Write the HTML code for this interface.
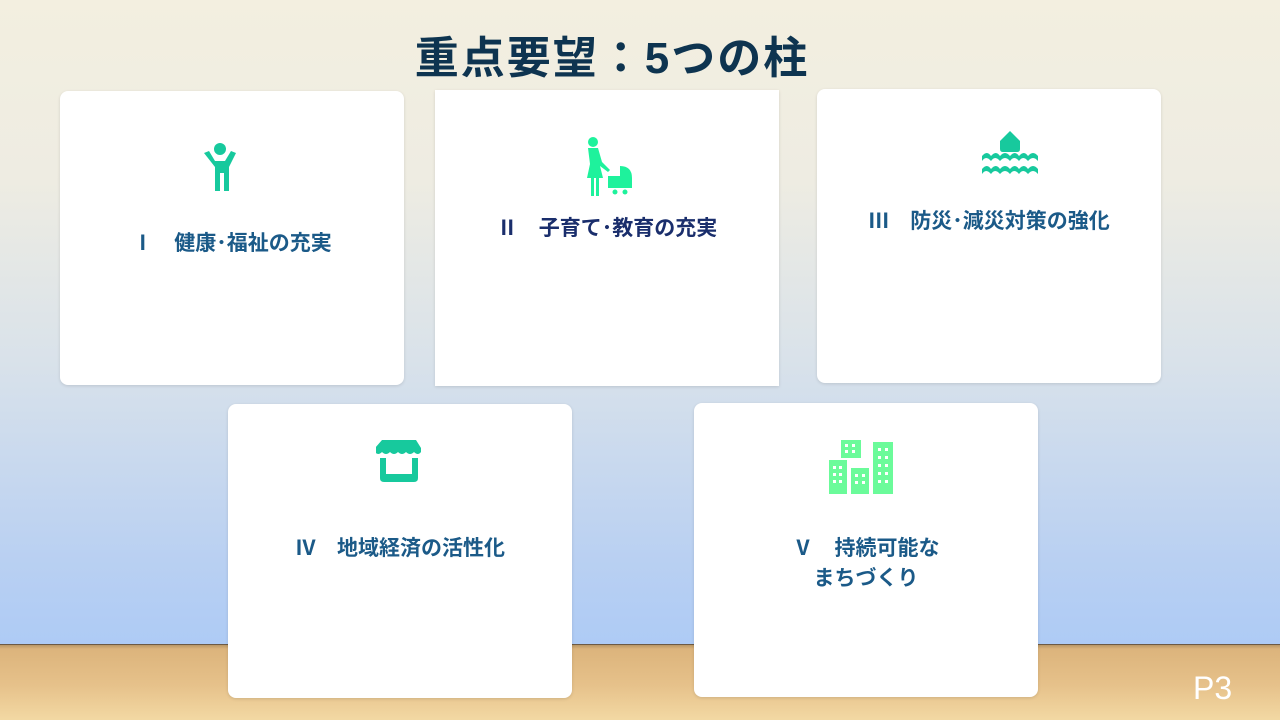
<!DOCTYPE html>
<html><head><meta charset="utf-8"><style>
*{margin:0;padding:0;box-sizing:border-box}
body{width:1280px;height:720px;overflow:hidden;position:relative;font-family:"Liberation Sans","Noto Sans CJK JP",sans-serif;
background:linear-gradient(180deg,#f3efe0 0px,#eeece2 180px,#d9e2ea 360px,#b9d0f2 560px,#aecbf5 644px)}
.floor{position:absolute;left:0;top:644px;width:1280px;height:76px;background:linear-gradient(180deg,#b89766 0px,#dcb47c 4px,#e6c18a 40px,#f3d9a4 76px);border-top:1px solid #6d5a45}
.title{position:absolute;left:0;width:1224px;top:22px;text-align:center;font-size:44px;font-weight:bold;color:#0e3450;letter-spacing:2px}
.card{position:absolute;width:344px;height:294px;background:#fff;border-radius:8px;box-shadow:0 1px 3px rgba(0,0,0,.12)}
.lab{position:absolute;left:0;width:100%;text-align:center;font-size:21px;font-weight:bold;color:#1b5a88;line-height:30px}
.ic{position:absolute}
.p3{position:absolute;left:1193px;top:670px;font-size:32px;color:#fff}
</style></head><body>
<div class="floor"></div>
<div class="title">重点要望：5つの柱</div>

<div class="card" style="left:60px;top:91px">
<svg class="ic" style="left:140px;top:50px" width="40" height="52" viewBox="0 0 40 52"><g fill="#17c99d"><circle cx="20" cy="8" r="6"/><path d="M4 12 l5-2 l6 10 h10 l6-10 l5 2 l-7 14 v24 h-5 v-18 h-4 v18 h-5 v-24z"/></g></svg>
<div class="lab" style="top:138px;color:#1b5a88">Ⅰ　健康･福祉の充実</div>
</div>

<div class="card" style="left:435px;top:90px;height:296px;border-radius:0">
<svg class="ic" style="left:145px;top:46px" width="56" height="60" viewBox="0 0 56 60"><g fill="#1ef29c"><circle cx="13" cy="6" r="5"/><path d="M8 12 h10 l4 14 l8 8 l-2 2 l-8 -6 l3 12 h-4 v18 h-3 v-18 h-2 v18 h-3 v-18 h-4 l3 -14z"/><path d="M40 30 q12 0 12 12 v10 h-24 v-12 h12z"/><circle cx="35" cy="56" r="2.5"/><circle cx="45" cy="56" r="2.5"/></g></svg>
<div class="lab" style="top:124px;color:#1a2e6c">Ⅱ　子育て･教育の充実</div>
</div>

<div class="card" style="left:817px;top:89px">
<svg class="ic" style="left:165px;top:42px" width="56" height="46" viewBox="0 0 56 46"><g fill="#17c99d"><path d="M18 10 l10-10 l10 10 v8 q0 3 -3 3 h-14 q-3 0 -3 -3z"/><path d="M0 28 q5-6 9 0 q5-6 9 0 q5-6 10 0 q5-6 9 0 q5-6 9 0 q5-6 10 0 v5 q-5-6-10 0 q-5-6-9 0 q-5-6-9 0 q-5-6-10 0 q-5-6-9 0 q-5-6-9 0z" transform="translate(0,-3)"/><path d="M0 28 q5-6 9 0 q5-6 9 0 q5-6 10 0 q5-6 9 0 q5-6 9 0 q5-6 10 0 v5 q-5-6-10 0 q-5-6-9 0 q-5-6-9 0 q-5-6-10 0 q-5-6-9 0 q-5-6-9 0z" transform="translate(0,10)"/></g></svg>
<div class="lab" style="top:118px;color:#1b5a88">Ⅲ　防災･減災対策の強化</div>
</div>

<div class="card" style="left:228px;top:404px">
<svg class="ic" style="left:148px;top:34px" width="46" height="46" viewBox="0 0 46 46"><g fill="#17c99d"><path d="M6 2 h34 l5 8 v4 q-3 4 -7 0 q-4 4 -8 0 q-4 4 -8 0 q-4 4 -8 0 q-4 4 -8 0 q-4 4 -7 0 v-4z"/><path d="M4 20 h6 v16 h26 v-16 h6 v20 q0 4 -4 4 h-30 q-4 0 -4 -4z"/></g></svg>
<div class="lab" style="top:130px;color:#1b5a88">Ⅳ　地域経済の活性化</div>
</div>

<div class="card" style="left:694px;top:403px">
<svg class="ic" style="left:135px;top:37px" width="64" height="54" viewBox="0 0 64 54"><g fill="#6bfb9a"><rect x="12" y="0" width="20" height="18"/><rect x="0" y="20" width="18" height="34"/><rect x="22" y="28" width="18" height="26"/><rect x="44" y="2" width="20" height="52"/></g><g fill="#fff"><rect x="16" y="4" width="3" height="3"/><rect x="23" y="4" width="3" height="3"/><rect x="16" y="10" width="3" height="3"/><rect x="23" y="10" width="3" height="3"/><rect x="4" y="26" width="3" height="3"/><rect x="10" y="26" width="3" height="3"/><rect x="4" y="33" width="3" height="3"/><rect x="10" y="33" width="3" height="3"/><rect x="4" y="40" width="3" height="3"/><rect x="10" y="40" width="3" height="3"/><rect x="26" y="34" width="3" height="3"/><rect x="33" y="34" width="3" height="3"/><rect x="26" y="41" width="3" height="3"/><rect x="33" y="41" width="3" height="3"/><rect x="49" y="8" width="3" height="3"/><rect x="56" y="8" width="3" height="3"/><rect x="49" y="16" width="3" height="3"/><rect x="56" y="16" width="3" height="3"/><rect x="49" y="24" width="3" height="3"/><rect x="56" y="24" width="3" height="3"/><rect x="49" y="32" width="3" height="3"/><rect x="56" y="32" width="3" height="3"/><rect x="49" y="40" width="3" height="3"/><rect x="56" y="40" width="3" height="3"/></g></svg>
<div class="lab" style="top:131px;color:#1b5a88">Ⅴ　持続可能な<br>まちづくり</div>
</div>

<div class="p3">P3</div>
</body></html>
